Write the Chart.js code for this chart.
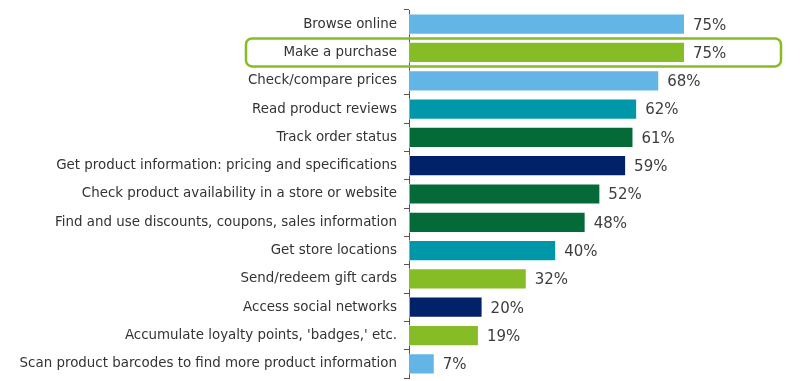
<!DOCTYPE html>
<html>
<head>
<meta charset="utf-8">
<script src="https://cdn.jsdelivr.net/npm/chart.js@4"></script>
<style>
  html, body { margin: 0; padding: 0; background: #ffffff; }
  #wrap { width: 800px; height: 381px; position: relative; }
</style>
</head>
<body>
<div id="wrap"><canvas id="chart"></canvas></div>
<script>
// Shopping activities done on a mobile device (share of respondents)
const activities = [
  "Browse online",
  "Make a purchase",
  "Check/compare prices",
  "Read product reviews",
  "Track order status",
  "Get product information: pricing and specifications",
  "Check product availability in a store or website",
  "Find and use discounts, coupons, sales information",
  "Get store locations",
  "Send/redeem gift cards",
  "Access social networks",
  "Accumulate loyalty points, 'badges,' etc.",
  "Scan product barcodes to find more product information"
];
const shares = [75, 75, 68, 62, 61, 59, 52, 48, 40, 32, 20, 19, 7];
const highlighted = "Make a purchase";

// Palette
const LIGHT_BLUE = "#62B5E5";
const GREEN = "#86BC25";
const TEAL = "#0097A9";
const DARK_GREEN = "#046A38";
const NAVY = "#012169";
const barColors = [
  LIGHT_BLUE, GREEN, LIGHT_BLUE, TEAL, DARK_GREEN, NAVY, DARK_GREEN,
  DARK_GREEN, TEAL, GREEN, NAVY, GREEN, LIGHT_BLUE
];

const FONT = "'DejaVu Sans', Verdana, sans-serif";

// Percent labels at the end of each bar
const valueLabels = {
  id: "valueLabels",
  afterDatasetsDraw(chart) {
    const { ctx } = chart;
    const meta = chart.getDatasetMeta(0);
    ctx.save();
    ctx.font = "15px " + FONT;
    ctx.fillStyle = "#3d3d3d";
    ctx.textAlign = "left";
    ctx.textBaseline = "middle";
    meta.data.forEach((bar, i) => {
      ctx.fillText(shares[i] + "%", bar.x + 8, bar.y + 1.5);
    });
    ctx.restore();
  }
};

// Rounded outline around the highlighted row
const rowHighlight = {
  id: "rowHighlight",
  afterDraw(chart) {
    const idx = activities.indexOf(highlighted);
    if (idx < 0) return;
    const { ctx, chartArea } = chart;
    const y = chart.scales.y.getPixelForValue(idx);
    const left = chartArea.left - 163;
    const right = chartArea.right + 4;
    const top = y - 14;
    const h = 28;
    ctx.save();
    ctx.strokeStyle = GREEN;
    ctx.lineWidth = 2.5;
    ctx.beginPath();
    ctx.roundRect(left, top, right - left, h, 6);
    ctx.stroke();
    ctx.restore();
  }
};

new Chart(document.getElementById("chart"), {
  type: "bar",
  data: {
    labels: activities,
    datasets: [{
      data: shares,
      backgroundColor: barColors,
      borderColor: "rgba(255,255,255,0.45)",
      borderWidth: 1,
      borderSkipped: false,
      barPercentage: 0.75,
      categoryPercentage: 1
    }]
  },
  options: {
    indexAxis: "y",
    responsive: true,
    maintainAspectRatio: false,
    animation: false,
    layout: { padding: { top: 10, bottom: 3, left: 0, right: 23 } },
    plugins: {
      legend: { display: false },
      tooltip: { enabled: false }
    },
    scales: {
      x: {
        display: false,
        min: 0,
        max: 100
      },
      y: {
        afterFit(scale) {
          scale.width = 409;
          scale.paddingTop = 0;
          scale.paddingBottom = 0;
        },
        border: { display: true, color: "#555555", width: 1 },
        grid: {
          drawOnChartArea: false,
          drawTicks: true,
          tickLength: 5,
          color: "#555555"
        },
        ticks: {
          padding: 7,
          color: "#333333",
          font: { family: FONT, size: 13.4 }
        }
      }
    }
  },
  plugins: [valueLabels, rowHighlight]
});
</script>
</body>
</html>
